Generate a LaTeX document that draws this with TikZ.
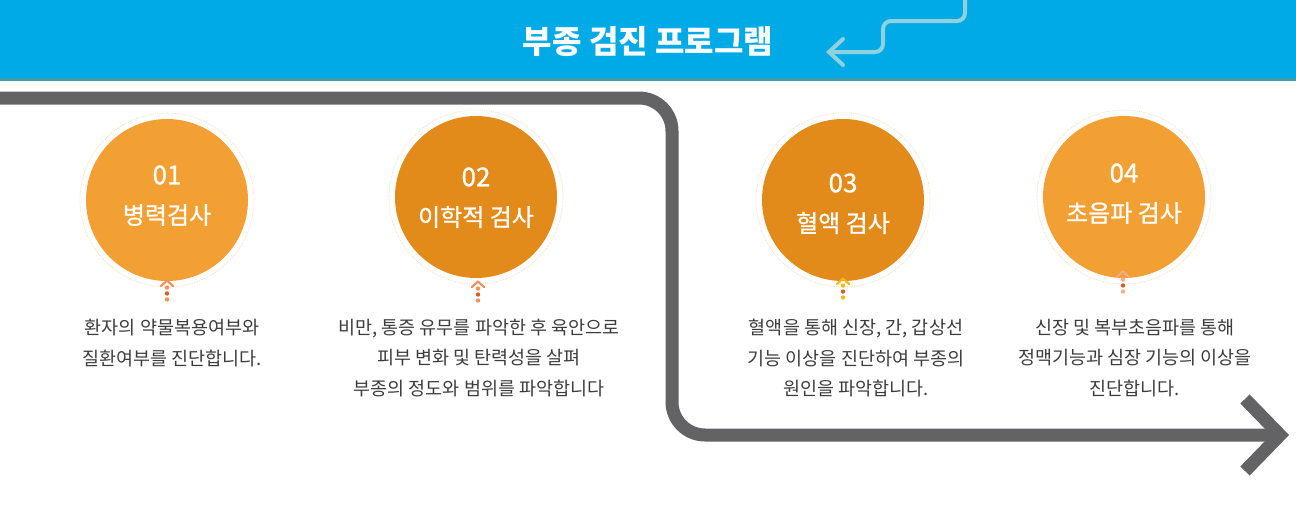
\documentclass[tikz,border=0pt]{standalone}
\usepackage{fontspec}
\setmainfont{Noto Sans CJK KR}
\newfontfamily\circfont[FakeBold=0.9]{Noto Sans CJK KR}
\definecolor{hdrblue}{HTML}{00AAE6}
\definecolor{hdrline}{HTML}{3E9CA6}
\definecolor{decoblue}{HTML}{8FD1DC}
\definecolor{roadgray}{HTML}{636366}
\definecolor{desctext}{HTML}{3C3C3C}
\definecolor{ringcol}{HTML}{F9DDC4}
\definecolor{steplight}{HTML}{F29F33}
\definecolor{stepdark}{HTML}{E38B1A}
\definecolor{mksalmon}{HTML}{F29158}
\definecolor{mkdark}{HTML}{D45F28}
\definecolor{mkyellow}{HTML}{F5B914}
\definecolor{mkpale}{HTML}{F9AA88}

\begin{document}
\begin{tikzpicture}[x=1pt, y=-1pt,
    every node/.style={inner sep=0pt, outer sep=0pt},
    ring/.style={circle, minimum size=174pt, draw=ringcol, line width=0.8pt, densely dotted, fill=white},
    stepcirc/.style={circle, minimum size=162pt},
    stepnum/.style={text=white, font=\circfont\fontsize{26}{30}\selectfont},
    steptitle/.style={text=white, font=\circfont\fontsize{24}{30}\selectfont},
    desc/.style={text=desctext, align=center, font=\fontsize{18.5}{30.5}\selectfont},
    road/.style={draw=roadgray, line width=13pt},
    chev/.style={line width=2.2pt, line cap=round, line join=round}]
    \useasboundingbox (0,0) rectangle (1296,504);

    % header band
    \fill[hdrblue] (0,0) rectangle (1296,79);
    \draw[hdrline, line width=2.5pt] (0,79.5) -- (1296,79.5);
    \node[text=white, font=\bfseries\fontsize{32}{36}\selectfont] (title) at (648,42) {부종 검진 프로그램};
    \draw[decoblue, line width=4pt, rounded corners=8pt] (965,-3) -- (965,21) -- (883,21) -- (883,52) -- (830,52);
    \draw[decoblue, line width=4pt, line cap=round] (843,39) -- (829,52) -- (843,65);

    % grey road with arrow head
    \draw[road, rounded corners=33pt] (-5,98) -- (672,98) -- (672,435) -- (1279,435);
    \draw[road, miter limit=4] (1245,399) -- (1280,435) -- (1245,471);

    % step 01
    \node[ring] (r1) at (167,200) {};
    \node[stepcirc, fill=steplight] (c1) at (167,200) {};
    \node[stepnum] (n1) at (167,175) {01};
    \node[steptitle] (t1) at (167,215) {병력검사};
    \draw[chev, mksalmon] (161,286) -- (167,280.5) -- (173,286);
    \fill[mksalmon] (167,287.5) circle (2.2);
    \fill[mkdark] (167,293.5) circle (2.2);
    \fill[mksalmon] (167,299.5) circle (2.2);
    \node[desc] (d1) at (172,343) {환자의 약물복용여부와\\질환여부를 진단합니다.};

    % step 02
    \node[ring] (r2) at (476,197) {};
    \node[stepcirc, fill=stepdark] (c2) at (476,197) {};
    \node[stepnum] (n2) at (476,177) {02};
    \node[steptitle] (t2) at (476,217) {이학적 검사};
    \draw[chev, mksalmon] (472,287) -- (478,281.5) -- (484,287);
    \fill[mksalmon] (478,288.5) circle (2.2);
    \fill[mkdark] (478,294.5) circle (2.2);
    \fill[mksalmon] (478,300.5) circle (2.2);
    \node[desc] (d2) at (479,358) {비만, 통증 유무를 파악한 후 육안으로\\피부 변화 및 탄력성을 살펴\\부종의 정도와 범위를 파악합니다};

    % step 03
    \node[ring] (r3) at (843,200) {};
    \node[stepcirc, fill=stepdark] (c3) at (843,200) {};
    \node[stepnum] (n3) at (843,183) {03};
    \node[steptitle] (t3) at (843,223) {혈액 검사};
    \draw[chev, mkyellow] (837,284) -- (843,278.5) -- (849,284);
    \fill[mkyellow] (843,285.5) circle (2.2);
    \fill[mkdark] (843,291.5) circle (2.2);
    \fill[mkyellow] (843,297.5) circle (2.2);
    \node[desc] (d3) at (856,358) {혈액을 통해 신장, 간, 갑상선\\기능 이상을 진단하여 부종의\\원인을 파악합니다.};

    % step 04
    \node[ring] (r4) at (1124,197) {};
    \node[stepcirc, fill=steplight] (c4) at (1124,197) {};
    \node[stepnum] (n4) at (1124,173) {04};
    \node[steptitle] (t4) at (1124,213) {초음파 검사};
    \draw[chev, mkpale] (1117,277) -- (1123,271.5) -- (1129,277);
    \fill[mkpale] (1123,279.5) circle (2.2);
    \fill[mkdark] (1123,285.5) circle (2.2);
    \fill[mkpale] (1123,291.5) circle (2.2);
    \node[desc] (d4) at (1135,358) {신장 및 복부초음파를 통해\\정맥기능과 심장 기능의 이상을\\진단합니다.};
\end{tikzpicture}
\end{document}
